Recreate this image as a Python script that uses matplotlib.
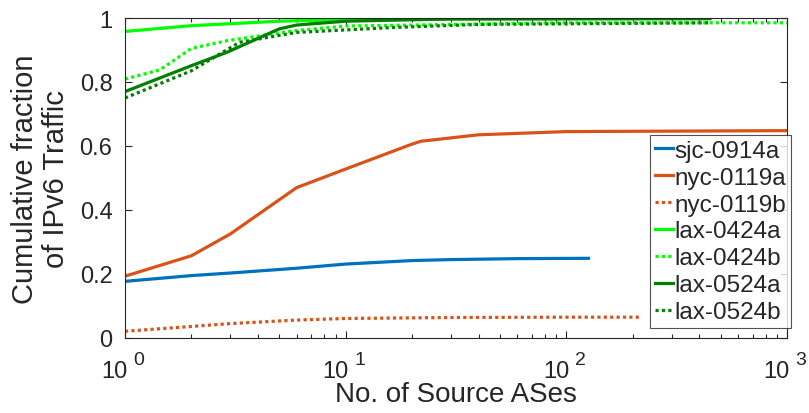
import numpy as np
import matplotlib
matplotlib.use('Agg')
import matplotlib.pyplot as plt
import matplotlib.transforms as mtransforms

plt.rcParams['font.family'] = ['Liberation Sans', 'DejaVu Sans']

# cumulative fraction curves
sjc_x = [1, 2, 3, 6, 10, 20, 30, 60, 126]
sjc_y = [0.177, 0.195, 0.203, 0.218, 0.231, 0.242, 0.245, 0.248, 0.249]

nyc_a_x = [1, 2, 3, 6, 10, 20, 22, 40, 100, 1000]
nyc_a_y = [0.193, 0.257, 0.325, 0.47, 0.528, 0.606, 0.615, 0.635, 0.645, 0.648]

nyc_b_x = [1, 2, 3, 6, 10, 30, 100, 215]
nyc_b_y = [0.021, 0.036, 0.045, 0.056, 0.061, 0.064, 0.065, 0.065]

lax0424a_x = [1, 2, 5, 10, 30, 100, 447]
lax0424a_y = [0.958, 0.976, 0.99, 0.995, 0.997, 0.998, 0.998]

lax0424b_x = [1, 1.44, 2, 2.9, 5.8, 10, 100, 1000]
lax0424b_y = [0.809, 0.838, 0.905, 0.929, 0.96, 0.975, 0.985, 0.985]

lax0524a_x = [1, 2, 2.9, 5, 6, 10, 30, 447]
lax0524a_y = [0.77, 0.851, 0.893, 0.966, 0.978, 0.99, 0.997, 0.998]

lax0524b_x = [1, 2, 3.3, 6, 16, 40, 447]
lax0524b_y = [0.75, 0.835, 0.924, 0.955, 0.97, 0.98, 0.985]

labels = ['sjc-0914a', 'nyc-0119a', 'nyc-0119b', 'lax-0424a', 'lax-0424b', 'lax-0524a', 'lax-0524b']
xticks = [1, 10, 100, 1000]
xexps = ['0', '1', '2', '3']
yticks = [0, 0.2, 0.4, 0.6, 0.8, 1]
ylabs = ['0', '0.2', '0.4', '0.6', '0.8', '1']

blue = '#0072BD'
orange = '#D95319'
lime = '#00FF00'
dgreen = '#008000'
txt = '#262626'

fig = plt.figure(figsize=(8.09, 4.14), dpi=100)
ax = fig.add_axes([0.1545, 0.1812, 0.8183, 0.7729])

lw = 2.3
dot = (0, (1, 1))
ax.plot(sjc_x, sjc_y, color=blue, lw=lw, label=labels[0])
ax.plot(nyc_a_x, nyc_a_y, color=orange, lw=lw, label=labels[1])
ax.plot(nyc_b_x, nyc_b_y, color=orange, lw=lw, ls=dot, label=labels[2])
ax.plot(lax0424a_x, lax0424a_y, color=lime, lw=lw, label=labels[3])
ax.plot(lax0424b_x, lax0424b_y, color=lime, lw=lw, ls=dot, label=labels[4])
ax.plot(lax0524a_x, lax0524a_y, color=dgreen, lw=lw, label=labels[5])
ax.plot(lax0524b_x, lax0524b_y, color=dgreen, lw=lw, ls=dot, label=labels[6])

ax.set_xscale('log')
ax.set_xlim(1, 1000)
ax.set_ylim(0, 1)
ax.set_yticks(yticks)
ax.set_yticklabels(ylabs)
ax.set_xticks(xticks)
ax.set_xticklabels([])

for s in ax.spines.values():
    s.set_color(txt)
    s.set_linewidth(0.8)
ax.tick_params(which='both', direction='in', top=True, right=True, colors=txt,
               labelsize=17, width=0.8)
ax.tick_params(which='major', length=5)
ax.tick_params(axis='y', pad=9)
ax.tick_params(which='minor', length=3)
ax.tick_params(axis='y', which='minor', left=False, right=False)

# MATLAB-style "10 ^ n" labels with a big exponent
base = mtransforms.blended_transform_factory(ax.transData, ax.transAxes)
for xv, e in zip(xticks, xexps):
    t1 = base + mtransforms.ScaledTranslation(0.03, -0.39, fig.dpi_scale_trans)
    ax.text(xv, 0, '10', transform=t1, ha='right', va='baseline', fontsize=17, color=txt)
    t2 = base + mtransforms.ScaledTranslation(0.085, -0.26, fig.dpi_scale_trans)
    ax.text(xv, 0, e, transform=t2, ha='left', va='baseline', fontsize=14, color=txt)

ax.set_xlabel('No. of Source ASes', fontsize=20, color=txt)
ax.xaxis.set_label_coords(0.5, -0.135)
ax.set_ylabel('Cumulative fraction\nof IPv6 Traffic', fontsize=21, color=txt,
              linespacing=1.15)
ax.yaxis.set_label_coords(-0.083, 0.5)

leg = ax.legend(loc='upper left', bbox_to_anchor=(650 / 809, 1 - 136 / 414),
                bbox_transform=fig.transFigure, fontsize=17.5, frameon=True,
                fancybox=False, edgecolor=txt, handlelength=0.75, handletextpad=0.05,
                labelspacing=0.2, borderpad=0.2, borderaxespad=0)
leg.get_frame().set_linewidth(0.8)
for t in leg.get_texts():
    t.set_color(txt)

fig.savefig('out.png', dpi=100)
